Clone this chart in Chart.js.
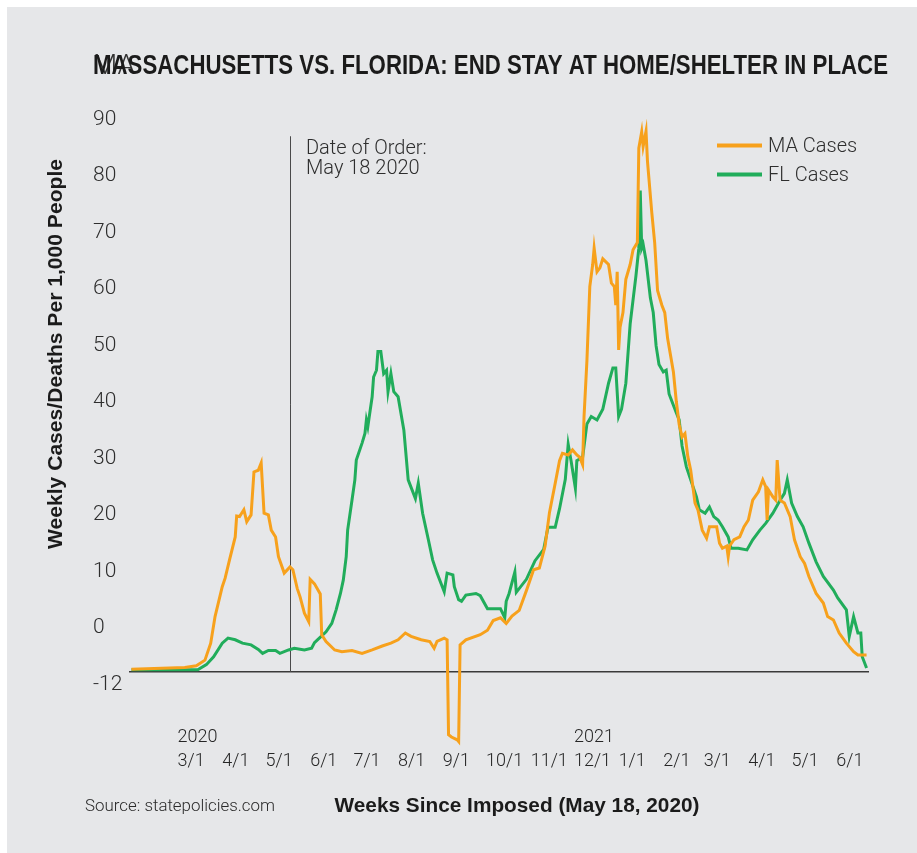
<!DOCTYPE html>
<html>
<head>
<meta charset="utf-8">
<script src="https://cdn.jsdelivr.net/npm/chart.js@4.4.1/dist/chart.umd.min.js"></script>
<style>
  html, body { margin: 0; padding: 0; background: #fff; }
  #panel { position: absolute; left: 7px; top: 7px; width: 910px; height: 846px; background: #e6e7e9; }
  #chart { position: absolute; left: 0; top: 0; }
</style>
</head>
<body>
<div id="panel"></div>
<canvas id="chart" width="917" height="853"></canvas>
<script>
// x values are days since 2020-03-01
const maDays = [-32,5,13,19,23,26,31,33,36,40, 41,43,46,48,51,53,56,58,60,63, 65,68,70,74,78,80,83,85,88,91,
  92,95,99,100,103,109,114,121,128,135, 142,148,153,158,162,169,175,178,180,185, 187,188,190,194,195,196,200,210,215,219,
  224,228,232,237,242,247,251,255,258,262, 265,267,271,274,277,279,281,282,284,286, 288,289,291,293,295,299,301,303,304,305,
  306,307,309,311,314,316,319,320,322,323, 325,326,329,331,333,336,338,340,344,346, 348,350,352,354,356,359,361,364,367,369,
  374,376,378,381,382,383,386,390,393,396, 399,403,406,408,409,410,413,415,416,418, 421,425,428,432,435,438,443,448,451,455,
  459,464,469,472,478];
const maCases = [-7.3,-7.0,-6.7,-5.7,-2.7,2.0,7.3,8.8,12.0,16.1, 19.8,19.7,20.9,18.8,20.0,27.6,27.9,29.2,20.3,20.0,
  17.3,16.1,12.6,9.7,10.8,10.3,7.0,5.5,2.6,1.1, 8.6,7.8,6.0,-1.2,-2.4,-3.9,-4.2,-4.0,-4.5,-3.9,
  -3.2,-2.7,-2.1,-0.9,-1.5,-2.1,-2.4,-3.6,-2.4,-1.8, -2.1,-18.9,-19.3,-19.8,-20.1,-3.0,-2.1,-1.2,-0.4,1.3,
  1.8,0.8,2.1,3.1,6.6,10.3,10.6,14.5,20.4,25.6, 29.6,30.9,30.6,31.5,30.6,30.2,28.9,37.4,47.3,60.4,
  64.3,67.2,63.0,63.7,65.3,64.3,61.0,60.4,57.1,63.0, 49.2,53.2,55.8,61.7,64.3,66.9,68.2,84.9,87.8,85.2,
  87.9,82.6,73.5,68.2,59.7,57.1,55.8,51.2,45.3,40.1, 36.0,33.8,34.4,30.3,27.9,22.1,20.9,17.3,15.9,17.9,
  17.9,15.0,14.1,14.5,12.6,14.5,15.6,16.1,17.9,19.1, 22.6,24.1,26.2,25.0,19.1,24.4,23.2,22.6,29.7,22.6,
  22.1,19.7,15.6,12.6,11.4,9.1,6.1,4.4,2.0,1.4, -0.9,-2.7,-4.2,-4.8,-4.8];

const flDays = [-32,14,20,25,31,35,40,45,51,56, 59,63,68,71,77,81,88,93,95,100, 103,107,110,113,115,117,118,121,123,124,
  128,130,131,132,133,135,136,138,139,141, 143,145,146,148,150,153,157,160,165,167, 170,174,177,180,185,187,191,192,195,197,
  200,207,210,215,224,227,228,230,234,235, 242,248,254,257,262,265,269,271,273,276, 277,281,284,287,291,295,299,302,304,306,
  308,311,314,318,320,321,322,323,325,328, 330,332,334,337,339,341,344,346,348,350, 353,356,360,362,366,369,372,375,378,382,
  384,389,395,399,404,408,413,418,421,423, 426,430,434,438,443,448,455,458,464,466, 469,472,474,475,478];
const flCases = [-7.4,-7.4,-6.5,-5.1,-2.7,-1.8,-2.1,-2.7,-3.0,-3.8, -4.5,-4.0,-4.0,-4.5,-3.9,-3.6,-3.9,-3.6,-2.6,-1.4,
  -0.7,0.8,3.2,6.1,8.5,12.6,17.3,22.6,26.2,29.7, 32.7,34.4,36.8,35.6,37.4,40.9,44.4,45.6,48.9,48.9,
  45.0,45.6,41.8,45.0,41.8,40.9,35.0,26.2,22.9,25.6, 20.3,15.6,12.0,9.7,6.4,9.7,9.4,7.3,5.0,4.7,
  5.8,6.1,5.7,3.4,3.4,1.8,4.7,6.1,9.9,6.3, 8.6,11.9,13.9,17.8,17.8,21.1,26.3,32.5,29.6,24.7,
  29.6,30.2,36.1,37.4,36.8,38.7,43.3,46.0,46.0,37.4, 38.7,43.3,53.8,62.3,67.2,77.4,67.2,67.9,65.0,58.4,
  55.8,49.9,46.6,45.3,45.6,41.4,39.4,38.1,36.8,32.2, 28.5,26.2,23.2,20.9,20.3,21.4,19.7,19.1,17.9,16.1,
  14.1,14.1,13.8,15.6,17.3,18.5,20.3,22.6,23.8,26.2, 22.1,19.7,17.9,15.0,11.7,9.1,6.7,5.3,3.2,-1.5,
  2.0,-0.9,-0.9,-5.1,-7.1];

const monthTickDays = [0,31,61,92,122,153,184,214,245,275,306,337,365,396,426,457];
const monthLabels = ['3/1','4/1','5/1','6/1','7/1','8/1','9/1','10/1','11/1','12/1','1/1','2/1','3/1','4/1','5/1','6/1'];
const yearLabels = { 0: '2020', 9: '2021' };   // by tick index
const yTickValues = [-10,0,10,20,30,40,50,60,70,80,90];
const yTickLabels = ['-12','0','10','20','30','40','50','60','70','80','90'];
const orderDay = 78;        // May 18 2020
const orderLineTop = 87;

const MA_COLOR = '#f7a11c';
const FL_COLOR = '#21ad5b';
const LIGHT = '"Roboto", "Liberation Sans", sans-serif';
const BOLD = '"Liberation Sans", Arial, sans-serif';

function hasFont(name) {
  const c = document.createElement('canvas').getContext('2d');
  const s = 'MA Cases 10/1 2021 abcxyz';
  c.font = '40px monospace';
  const a = c.measureText(s).width;
  c.font = '40px "' + name + '", monospace';
  return c.measureText(s).width !== a;
}
const narrow = hasFont('Liberation Sans Narrow');
const tickFont = narrow
  ? { family: '"Liberation Sans Narrow"', size: 21, lineHeight: 1.15 }
  : { family: LIGHT, size: 18, weight: 300, lineHeight: 1.35 };

function fitText(ctx, text, x, y, width, font, color, align, angle) {
  ctx.save();
  ctx.font = font;
  ctx.fillStyle = color;
  ctx.textAlign = align;
  ctx.textBaseline = 'alphabetic';
  const sx = width / ctx.measureText(text).width;
  ctx.translate(x, y);
  if (angle) ctx.rotate(angle);
  ctx.scale(sx, 1);
  ctx.fillText(text, 0, 0);
  ctx.restore();
}

const decor = {
  id: 'decor',
  beforeDatasetsDraw(chart) {
    const { ctx, chartArea, scales: { x, y } } = chart;
    const px = Math.round(x.getPixelForValue(orderDay)) + 0.5;
    ctx.save();
    ctx.strokeStyle = '#4a4a4a';
    ctx.lineWidth = 1;
    ctx.beginPath();
    ctx.moveTo(px, y.getPixelForValue(orderLineTop));
    ctx.lineTo(px, chartArea.bottom);
    ctx.stroke();
    ctx.restore();
  },
  afterDraw(chart) {
    const { ctx, chartArea, scales: { x } } = chart;
    const px = x.getPixelForValue(orderDay);

    // stray "MA" under the title, as in the source image
    ctx.save();
    ctx.font = '300 28px ' + LIGHT;
    ctx.fillStyle = '#333';
    ctx.fillText('MA', 93, 73.5);
    ctx.restore();
    fitText(ctx, 'MASSACHUSETTS VS. FLORIDA: END STAY AT HOME/SHELTER IN PLACE', 93, 73.5, 795,
      'bold 28px ' + BOLD, '#1b1b1b', 'left');

    fitText(ctx, 'Weekly Cases/Deaths Per 1,000 People', 62, 354, 390,
      'bold 21px ' + BOLD, '#1b1b1b', 'center', -Math.PI / 2);
    fitText(ctx, 'Weeks Since Imposed (May 18, 2020)', 517, 811.5, 365,
      'bold 21px ' + BOLD, '#1b1b1b', 'center');
    fitText(ctx, 'Source: statepolicies.com', 85, 811, 190,
      '300 17px ' + LIGHT, '#2a2a2a', 'left');

    ctx.save();
    ctx.font = '300 20px ' + LIGHT;
    ctx.fillStyle = '#2e2e2e';
    ctx.textBaseline = 'alphabetic';
    ctx.fillText('Date of Order:', px + 16, chartArea.top + 45.5);
    ctx.fillText('May 18 2020', px + 16, chartArea.top + 65.5);

    // legend
    const lx = chartArea.right - 151;
    chart.data.datasets.forEach((ds, i) => {
      const ly = chartArea.top + 37.5 + i * 29;
      ctx.strokeStyle = ds.borderColor;
      ctx.lineWidth = 4;
      ctx.beginPath();
      ctx.moveTo(lx, ly);
      ctx.lineTo(lx + 45, ly);
      ctx.stroke();
      ctx.textBaseline = 'middle';
      ctx.fillText(ds.label, lx + 51, ly + 1);
    });
    ctx.restore();
  }
};

new Chart(document.getElementById('chart'), {
  type: 'line',
  data: {
    datasets: [
      { label: 'MA Cases', data: maDays.map((d, i) => ({ x: d, y: maCases[i] })),
        borderColor: MA_COLOR, borderWidth: 3, pointRadius: 0, tension: 0, clip: false },
      { label: 'FL Cases', data: flDays.map((d, i) => ({ x: d, y: flCases[i] })),
        borderColor: FL_COLOR, borderWidth: 3, pointRadius: 0, tension: 0, clip: false }
    ]
  },
  options: {
    responsive: false,
    animation: false,
    devicePixelRatio: 1,
    layout: { padding: { left: 93, right: 49, top: 108, bottom: 81 } },
    plugins: { legend: { display: false }, title: { display: false }, tooltip: { enabled: false } },
    scales: {
      x: {
        type: 'linear', min: -33, max: 479, bounds: 'data',
        afterBuildTicks: s => { s.ticks = monthTickDays.map(v => ({ value: v })); },
        afterFit: s => { s.height = 100; s.paddingLeft = 0; s.paddingRight = 0; },
        grid: { display: false, drawTicks: false },
        border: { display: true, color: '#3a3a3a', width: 1.5 },
        ticks: {
          autoSkip: false, maxRotation: 0, align: 'start', crossAlign: 'far', padding: 65,
          color: '#262626', font: tickFont,
          callback: (v, i) => yearLabels[i] ? [yearLabels[i], monthLabels[i]] : monthLabels[i]
        }
      },
      y: {
        min: -7.8, max: 92, bounds: 'data',
        afterBuildTicks: s => { s.ticks = yTickValues.map(v => ({ value: v })); },
        afterFit: s => { s.width = 37; s.paddingTop = 0; s.paddingBottom = 0; },
        grid: { display: false, drawTicks: false },
        border: { display: false },
        ticks: {
          autoSkip: false, crossAlign: 'far', padding: 0,
          color: '#2e2e2e', font: { family: LIGHT, size: 21, weight: 300 },
          callback: (v, i) => yTickLabels[i]
        }
      }
    }
  },
  plugins: [decor]
});
</script>
</body>
</html>
